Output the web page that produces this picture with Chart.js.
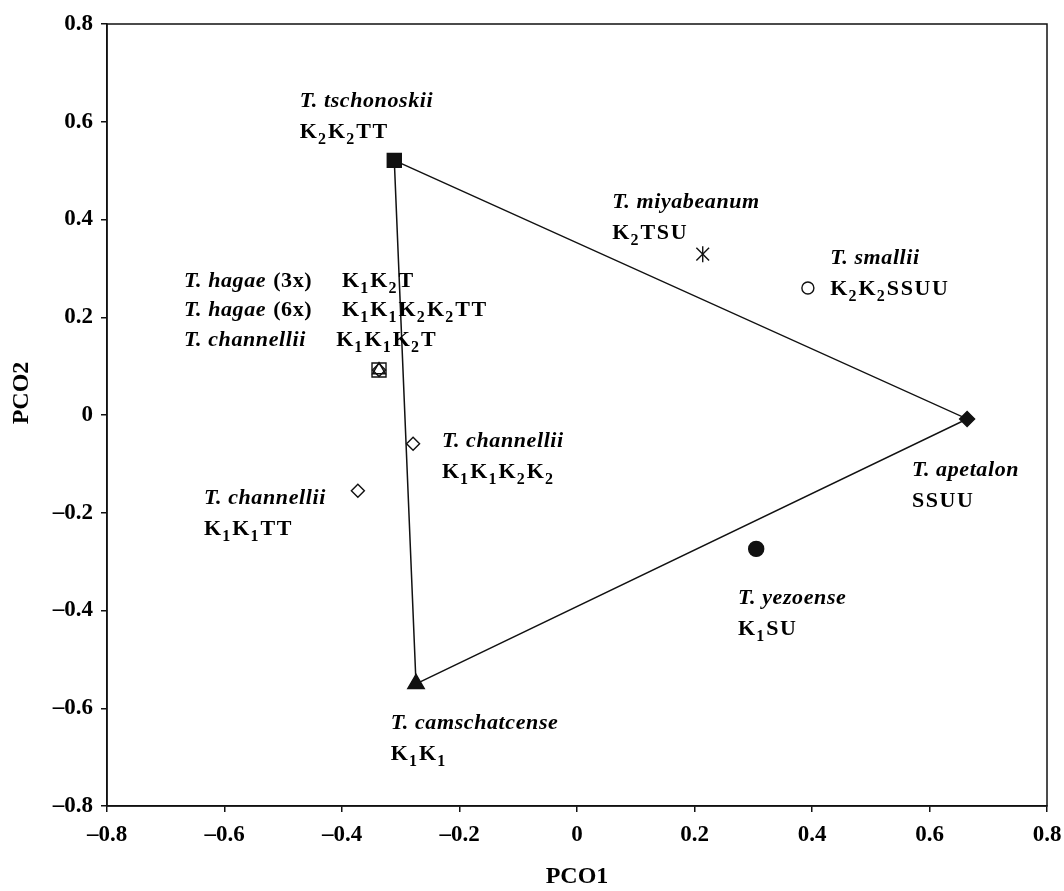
<!DOCTYPE html>
<html>
<head>
<meta charset="utf-8">
<script src="https://cdn.jsdelivr.net/npm/chart.js@4.4.1/dist/chart.umd.min.js"></script>
<style>
  html, body { margin: 0; padding: 0; background: #fff; }
  #wrap { width: 1064px; height: 891px; position: relative; }
</style>
</head>
<body>
<div id="wrap"><canvas id="c" width="1064" height="891"></canvas></div>
<script>
// ---- data ----
const taxa = ['T. tschonoskii', 'T. apetalon', 'T. camschatcense', 'T. miyabeanum', 'T. smallii',
              'T. yezoense', 'T. hagae (3x)', 'T. hagae (6x)', 'T. channellii K1K1K2T',
              'T. channellii K1K1K2K2', 'T. channellii K1K1TT'];
const pco1 = [-0.311, 0.664, -0.274, 0.214, 0.393, 0.305, -0.337, -0.337, -0.337, -0.279, -0.373];
const pco2 = [0.521, -0.008, -0.550, 0.329, 0.260, -0.274, 0.092, 0.092, 0.092, -0.059, -0.155];
// triangle joining the three diploid genome "corners": tschonoskii -> apetalon -> camschatcense -> tschonoskii
const triangleOrder = [0, 1, 2, 0];

const xTicks = [-0.8, -0.6, -0.4, -0.2, 0, 0.2, 0.4, 0.6, 0.8];
const yTicks = [-0.8, -0.6, -0.4, -0.2, 0, 0.2, 0.4, 0.6, 0.8];
const xTitle = 'PCO1';
const yTitle = 'PCO2';

// two-line annotations: italic name, genome formula (underscore = subscript digit)
const labelNames   = ['T. tschonoskii', 'T. miyabeanum', 'T. smallii', 'T. channellii', 'T. channellii', 'T. apetalon', 'T. yezoense', 'T. camschatcense'];
const labelGenomes = ['K_2K_2TT', 'K_2TSU', 'K_2K_2SSUU', 'K_1K_1K_2K_2', 'K_1K_1TT', 'SSUU', 'K_1SU', 'K_1K_1'];
const labelAnchorX = [-0.472, 0.060, 0.431, -0.230, -0.635, 0.570, 0.274, -0.317];
const labelAnchorY = [0.630, 0.423, 0.309, -0.065, -0.182, -0.125, -0.387, -0.642];

// one-line annotations (the overlapping cluster)
const rowNames   = ['T. hagae', 'T. hagae', 'T. channellii'];
const rowPloidy  = ['(3x)', '(6x)', ''];
const rowGenomes = ['K_1K_2T', 'K_1K_1K_2K_2TT', 'K_1K_1K_2T'];
const rowNameX   = [-0.669, -0.669, -0.669];
const rowGenomeX = [-0.400, -0.400, -0.410];
const rowY       = [0.262, 0.202, 0.141];

// ---- build datasets ----
const FONT = '"Liberation Serif", "Times New Roman", serif';
const INK = '#111111';
const pt = i => [{ x: pco1[i], y: pco2[i] }];
const markerStyles = [
  { style: 'rect',     r: 9.9, fill: INK },
  { style: 'rectRot',  r: 7.5, fill: INK },
  { style: 'triangle', r: 9.5, fill: INK },
  { style: 'crossRot', r: 9,   fill: INK },
  { style: 'circle',   r: 6,   fill: '#ffffff' },
  { style: 'circle',   r: 7.5, fill: INK },
  { style: 'rect',     r: 9.9, fill: 'rgba(255,255,255,0)' },
  { style: 'triangle', r: 7.5, fill: 'rgba(255,255,255,0)' },
  { style: 'rectRot',  r: 6.5, fill: 'rgba(255,255,255,0)' },
  { style: 'rectRot',  r: 6.5, fill: '#ffffff' },
  { style: 'rectRot',  r: 6.5, fill: '#ffffff' }
];
const datasets = taxa.map((name, i) => ({
  type: 'scatter',
  label: name,
  data: pt(i),
  pointStyle: markerStyles[i].style,
  pointRadius: markerStyles[i].r,
  pointHoverRadius: markerStyles[i].r,
  backgroundColor: markerStyles[i].fill,
  borderColor: INK,
  borderWidth: 1.4,
  order: 1
}));
// vertical stroke completing the six-armed asterisk of T. miyabeanum
datasets.push({
  type: 'scatter', label: 'T. miyabeanum (stroke)', data: pt(3),
  pointStyle: 'line', rotation: 90, pointRadius: 8, pointHoverRadius: 8,
  borderColor: INK, borderWidth: 1.4, order: 1
});
datasets.push({
  type: 'line', label: 'triangle',
  data: triangleOrder.map(i => ({ x: pco1[i], y: pco2[i] })),
  borderColor: INK, borderWidth: 1.5, pointRadius: 0, fill: false,
  tension: 0, order: 5
});

// ---- text helpers ----
function drawGenome(ctx, str, x, y) {
  let cx = x;
  for (let k = 0; k < str.length; k++) {
    const ch = str[k];
    if (ch === '_') {
      const sub = str[++k];
      ctx.font = 'bold 16px ' + FONT;
      ctx.fillText(sub, cx - 0.5, y + 6);
      cx += ctx.measureText(sub).width + 1;
    } else {
      ctx.font = 'bold 22px ' + FONT;
      ctx.fillText(ch, cx, y);
      cx += ctx.measureText(ch).width + 1;
    }
  }
}
function drawName(ctx, name, x, y) {
  ctx.font = 'italic bold 22px ' + FONT;
  ctx.fillText(name, x, y);
  return ctx.measureText(name).width;
}

const labelPlugin = {
  id: 'labels',
  afterDatasetsDraw(chart) {
    const { ctx, scales: { x, y } } = chart;
    ctx.save();
    ctx.fillStyle = '#000';
    ctx.textBaseline = 'alphabetic';
    ctx.textAlign = 'left';
    try { ctx.letterSpacing = '0.6px'; } catch (e) {}
    for (let i = 0; i < labelNames.length; i++) {
      const px = x.getPixelForValue(labelAnchorX[i]);
      const py = y.getPixelForValue(labelAnchorY[i]);
      drawName(ctx, labelNames[i], px, py);
      drawGenome(ctx, labelGenomes[i], px, py + 31);
    }
    for (let i = 0; i < rowNames.length; i++) {
      const px = x.getPixelForValue(rowNameX[i]);
      const py = y.getPixelForValue(rowY[i]);
      const w = drawName(ctx, rowNames[i], px, py);
      if (rowPloidy[i]) {
        ctx.font = 'bold 22px ' + FONT;
        ctx.fillText(rowPloidy[i], px + w + 7, py);
      }
      drawGenome(ctx, rowGenomes[i], x.getPixelForValue(rowGenomeX[i]), py);
    }
    // y-axis title, rotated
    const yc = y.getPixelForValue(0.045);
    ctx.translate(28, yc);
    ctx.rotate(-Math.PI / 2);
    ctx.textAlign = 'center';
    ctx.font = 'bold 24px ' + FONT;
    ctx.letterSpacing = '0px';
    ctx.fillText(yTitle, 0, 0);
    ctx.restore();
  }
};
const framePlugin = {
  id: 'frame',
  beforeDatasetsDraw(chart) {
    const { ctx, chartArea: a } = chart;
    ctx.save();
    ctx.strokeStyle = INK;
    ctx.lineWidth = 1.5;
    ctx.strokeRect(a.left, a.top, a.right - a.left, a.bottom - a.top);
    ctx.restore();
  }
};

const fmt = v => {
  const r = Math.round(v * 10) / 10;
  if (r === 0) return '0';
  return (r < 0 ? '\u2013' : '') + Math.abs(r).toFixed(1);
};

new Chart(document.getElementById('c'), {
  data: { datasets },
  options: {
    responsive: false,
    animation: false,
    events: [],
    layout: { padding: { top: 24, right: 17, left: 0, bottom: 0 } },
    plugins: { legend: { display: false }, tooltip: { enabled: false } },
    scales: {
      x: {
        type: 'linear', min: -0.8, max: 0.8,
        afterBuildTicks: s => { s.ticks = xTicks.map(v => ({ value: v })); },
        afterFit: s => { s.height = 85; s.paddingLeft = 0; s.paddingRight = 0; },
        grid: { drawOnChartArea: false, drawTicks: true, tickLength: 6, color: INK, lineWidth: 1.5 },
        border: { display: true, color: INK, width: 1.5 },
        ticks: { color: '#000', padding: 9, maxRotation: 0, font: { family: FONT, weight: 'bold', size: 23 }, callback: fmt },
        title: { display: true, text: xTitle, color: '#000', padding: { top: 14, bottom: 0 }, font: { family: FONT, weight: 'bold', size: 24 } }
      },
      y: {
        type: 'linear', min: -0.8, max: 0.8,
        afterBuildTicks: s => { s.ticks = yTicks.map(v => ({ value: v })); },
        afterFit: s => { s.width = 107; s.paddingTop = 0; s.paddingBottom = 0; },
        grid: { drawOnChartArea: false, drawTicks: true, tickLength: 6, color: INK, lineWidth: 1.5 },
        border: { display: true, color: INK, width: 1.5 },
        ticks: { color: '#000', padding: 8, font: { family: FONT, weight: 'bold', size: 23 }, callback: fmt },
        title: { display: false }
      }
    }
  },
  plugins: [framePlugin, labelPlugin]
});
</script>
</body>
</html>
